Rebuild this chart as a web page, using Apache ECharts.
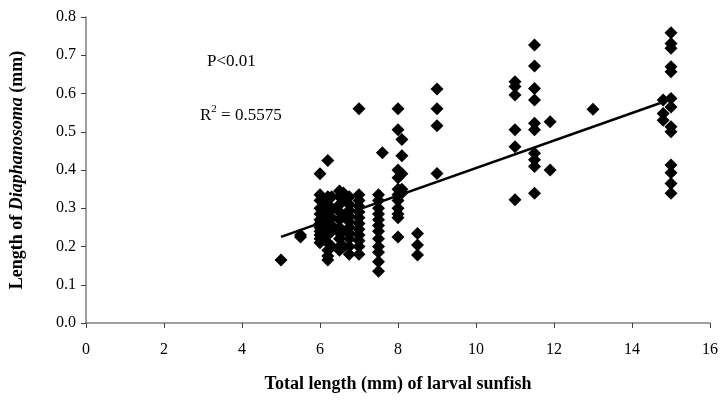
<!DOCTYPE html>
<html><head><meta charset="utf-8">
<script src="https://cdn.jsdelivr.net/npm/echarts@6/dist/echarts.min.js"></script>
<style>html,body{margin:0;padding:0;background:#fff}#c{width:722px;height:406px}</style>
</head><body><div id="c"></div>
<script>
// Total length of larval sunfish (mm) -> lengths of Diaphanosoma (mm)
const fishLengths = [5, 5.5, 6.0, 6.1, 6.2, 6.3, 6.5, 6.6, 6.75, 7.0, 7.5, 7.6, 8.0, 8.1, 8.5, 9.0, 11.0, 11.5, 11.9, 13.0, 14.8, 15.0];
const preyLengths = [
  [0.165],
  [0.225, 0.23],
  [0.39, 0.335, 0.32, 0.30, 0.285, 0.27, 0.26, 0.25, 0.24, 0.23, 0.22, 0.21],
  [0.28, 0.26, 0.245, 0.235, 0.22],
  [0.425, 0.33, 0.31, 0.29, 0.27, 0.25, 0.23, 0.21, 0.19, 0.175, 0.165],
  [0.33, 0.30, 0.275, 0.255, 0.24, 0.20],
  [0.345, 0.33, 0.31, 0.29, 0.27, 0.25, 0.235, 0.22, 0.20, 0.19],
  [0.34, 0.32, 0.28, 0.24, 0.20],
  [0.33, 0.31, 0.295, 0.28, 0.265, 0.25, 0.235, 0.22, 0.20, 0.18],
  [0.56, 0.335, 0.32, 0.305, 0.29, 0.275, 0.26, 0.245, 0.23, 0.215, 0.20, 0.18],
  [0.335, 0.32, 0.30, 0.285, 0.27, 0.255, 0.24, 0.22, 0.20, 0.185, 0.16, 0.135],
  [0.445],
  [0.56, 0.505, 0.40, 0.38, 0.35, 0.335, 0.32, 0.30, 0.285, 0.275, 0.225],
  [0.48, 0.437, 0.39, 0.35, 0.34],
  [0.234, 0.204, 0.178],
  [0.612, 0.56, 0.516, 0.391],
  [0.631, 0.618, 0.596, 0.505, 0.461, 0.322],
  [0.727, 0.672, 0.613, 0.583, 0.522, 0.505, 0.444, 0.427, 0.409, 0.339],
  [0.526, 0.40],
  [0.559],
  [0.583, 0.548, 0.53],
  [0.759, 0.731, 0.718, 0.670, 0.657, 0.587, 0.565, 0.513, 0.50, 0.413, 0.393, 0.365, 0.339]
];
const trendX = [5, 15];
const trendY = [0.225, 0.585];
const xTicks = [0, 2, 4, 6, 8, 10, 12, 14, 16];
const yTicks = [0.0, 0.1, 0.2, 0.3, 0.4, 0.5, 0.6, 0.7, 0.8];
const pText = 'P<0.01';
const r2Text = '0.5575';

const points = [];
fishLengths.forEach((x, i) => preyLengths[i].forEach(y => points.push([x, y])));
const trend = trendX.map((x, i) => [x, trendY[i]]);

const FONT = '"Liberation Serif", "Times New Roman", serif';
const chart = echarts.init(document.getElementById('c'), null, {renderer: 'canvas'});
chart.setOption({
  animation: false,
  backgroundColor: '#fff',
  grid: {left: 84, right: 12, top: 17, bottom: 83},
  xAxis: {
    type: 'value', min: xTicks[0], max: xTicks[xTicks.length - 1], interval: 2,
    axisLine: {show: true, lineStyle: {color: '#808080', width: 1.5}},
    axisTick: {show: true, length: 5, lineStyle: {color: '#404040'}},
    splitLine: {show: false},
    axisLabel: {color: '#000', fontFamily: FONT, fontSize: 16, margin: 19},
    name: 'Total length (mm) of larval sunfish',
    nameLocation: 'middle', nameGap: 52,
    nameTextStyle: {color: '#000', fontFamily: FONT, fontSize: 18, fontWeight: 'bold'}
  },
  yAxis: {
    type: 'value', min: yTicks[0], max: yTicks[yTicks.length - 1], interval: 0.1,
    axisLine: {show: true, lineStyle: {color: '#808080', width: 1.5}},
    axisTick: {show: true, length: 5, lineStyle: {color: '#404040'}},
    splitLine: {show: false},
    axisLabel: {color: '#000', fontFamily: FONT, fontSize: 16, margin: 10,
      formatter: v => v.toFixed(1)},
    name: '{b|Length of }{i|Diaphanosoma}{b| (mm)}',
    nameLocation: 'middle', nameGap: 60, nameRotate: 90,
    nameTextStyle: {
      color: '#000', fontFamily: FONT, fontSize: 18, fontWeight: 'bold',
      rich: {
        b: {fontFamily: FONT, fontSize: 18, fontWeight: 'bold', color: '#000'},
        i: {fontFamily: FONT, fontSize: 18, fontWeight: 'bold', fontStyle: 'italic', color: '#000'}
      }
    }
  },
  series: [
    {
      type: 'scatter', data: points, symbol: 'diamond', symbolSize: [13, 13],
      itemStyle: {color: '#000', opacity: 1}, z: 3
    },
    {
      type: 'line', data: trend, symbol: 'none', lineStyle: {color: '#000', width: 2.5}, z: 4
    }
  ],
  graphic: [
    {type: 'text', left: 207, top: 53,
      style: {text: pText, fill: '#000', font: '17px ' + FONT}},
    {type: 'text', left: 200, top: 104,
      style: {text: '{n|R}{s|2}{n| = ' + r2Text + '}', fill: '#000',
        rich: {
          n: {fontFamily: FONT, fontSize: 17, fill: '#000', verticalAlign: 'bottom'},
          s: {fontFamily: FONT, fontSize: 11, fill: '#000', verticalAlign: 'top', padding: [0, 0, 9, 0]}
        }}}
  ]
});
</script>
</body></html>
